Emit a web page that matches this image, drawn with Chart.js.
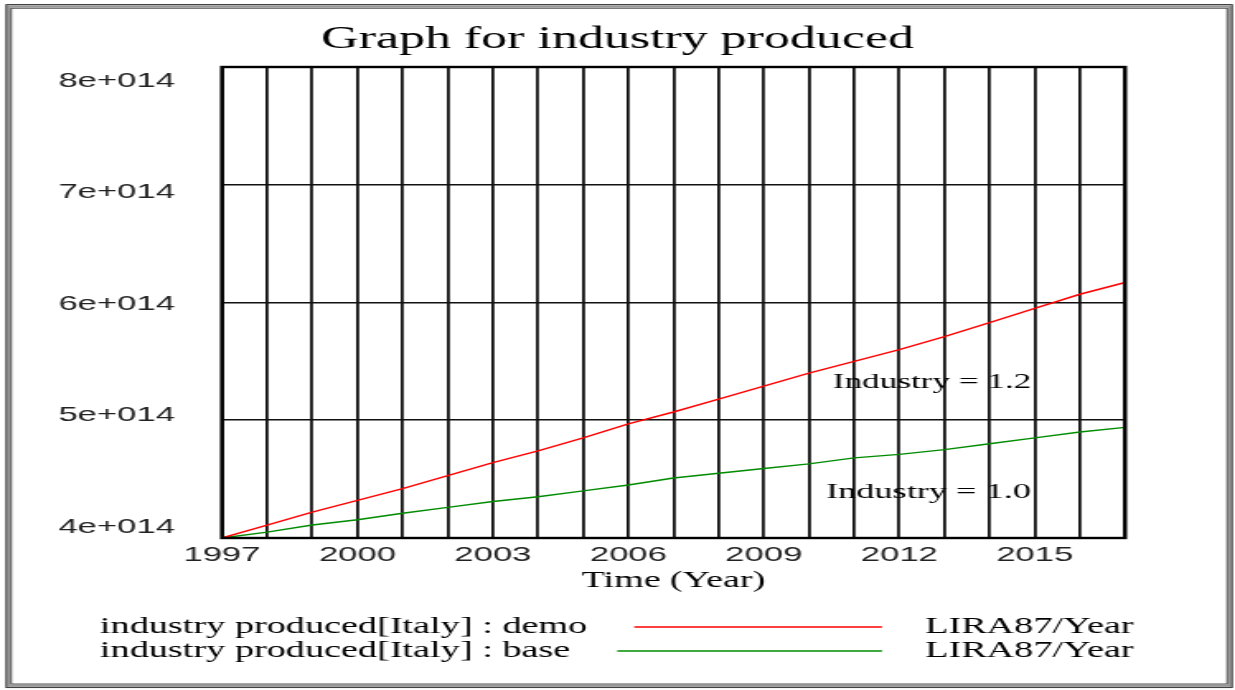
<!DOCTYPE html>
<html>
<head>
<meta charset="utf-8">
<title>Graph for industry produced</title>
<script src="https://cdn.jsdelivr.net/npm/chart.js@4.4.1/dist/chart.umd.min.js"></script>
<style>
  html, body { margin: 0; padding: 0; background: #fff; overflow: hidden; }
  /* the original graph is stretched sideways, so draw narrow and widen it */
  #wrap { width: 749px; height: 690px; transform: scaleX(1.6489); transform-origin: 0 0; }
  canvas { display: block; }
</style>
</head>
<body>
<div id="wrap"><canvas id="chart" width="749" height="690"></canvas></div>
<script>
const years = [1997, 1998, 1999, 2000, 2001, 2002, 2003, 2004, 2005, 2006, 2007,
               2008, 2009, 2010, 2011, 2012, 2013, 2014, 2015, 2016, 2017];

// industry produced[Italy] : demo  (LIRA87/Year)
const demoValues = [4.00e14, 4.11e14, 4.22e14, 4.32e14, 4.42e14, 4.53e14, 4.64e14,
                    4.74e14, 4.85e14, 4.97e14, 5.07e14, 5.18e14, 5.29e14, 5.40e14,
                    5.50e14, 5.60e14, 5.71e14, 5.83e14, 5.95e14, 6.07e14, 6.17e14];

// industry produced[Italy] : base  (LIRA87/Year)
const baseValues = [4.00e14, 4.05e14, 4.11e14, 4.155e14, 4.21e14, 4.26e14, 4.31e14,
                    4.35e14, 4.40e14, 4.45e14, 4.51e14, 4.55e14, 4.59e14, 4.63e14,
                    4.68e14, 4.71e14, 4.75e14, 4.80e14, 4.85e14, 4.90e14, 4.94e14];

const seriesNames = ['industry produced[Italy] : demo', 'industry produced[Italy] : base'];
const unitLabel = 'LIRA87/Year';
const runLabels = ['Industry = 1.2', 'Industry = 1.0'];
const yTicks = [4e14, 5e14, 6e14, 7e14, 8e14];
const xTickLabels = [1997, 2000, 2003, 2006, 2009, 2012, 2015];

const serif = "'Liberation Serif', 'Times New Roman', serif";
const sans = "'Liberation Sans', Arial, sans-serif";

Chart.defaults.color = '#000';

const decor = {
  id: 'decor',
  beforeDraw(chart) {
    const ctx = chart.ctx;
    ctx.save();
    ctx.fillStyle = '#fff';
    ctx.fillRect(0, 0, chart.width, chart.height);
    // double outer frame
    ctx.strokeStyle = '#999';
    ctx.lineWidth = 2.2;
    ctx.strokeRect(5.2, 6.4, 740.6, 679.4);
    ctx.strokeStyle = '#222';
    ctx.lineWidth = 0.9;
    ctx.strokeRect(3.8, 4.6, 743.4, 683);
    ctx.lineWidth = 0.8;
    ctx.strokeRect(6.8, 8.2, 737.4, 675.8);
    ctx.restore();
  },
  afterDraw(chart) {
    const {ctx, chartArea: a, scales: {x, y}} = chart;
    ctx.save();
    // plot box
    ctx.strokeStyle = '#000';
    ctx.lineWidth = 2.4;
    ctx.strokeRect(a.left, a.top, a.right - a.left, a.bottom - a.top);

    // run labels inside the plot
    ctx.fillStyle = '#000';
    ctx.textBaseline = 'middle';
    ctx.textAlign = 'left';
    ctx.font = '21.3px ' + serif;
    ctx.fillText(runLabels[0], x.getPixelForValue(2010.53), y.getPixelForValue(5.32e14));
    ctx.font = '22px ' + serif;
    ctx.fillText(runLabels[1], x.getPixelForValue(2010.38), y.getPixelForValue(4.39e14));

    // legend rows
    ctx.font = '23.2px ' + serif;
    chart.data.datasets.forEach((ds, i) => {
      const ty = 627 + i * 24;
      ctx.fillStyle = '#000';
      ctx.fillText(ds.label, 60.6, ty);
      const x0 = 60.6 + ctx.measureText(ds.label).width + 28.5;
      ctx.strokeStyle = ds.borderColor;
      ctx.lineWidth = 1.4;
      ctx.beginPath();
      ctx.moveTo(x0, ty);
      ctx.lineTo(534.9, ty);
      ctx.stroke();
      ctx.fillText(unitLabel, 561, ty);
    });
    ctx.restore();
  }
};

new Chart(document.getElementById('chart'), {
  type: 'line',
  data: {
    datasets: [
      {
        label: seriesNames[0],
        data: years.map((yr, i) => ({x: yr, y: demoValues[i]})),
        borderColor: 'rgb(255, 0, 0)',
        borderWidth: 1.4,
        pointRadius: 0,
        tension: 0,
        yAxisID: 'y'
      },
      {
        label: seriesNames[1],
        data: years.map((yr, i) => ({x: yr, y: baseValues[i]})),
        borderColor: 'rgb(0, 140, 0)',
        borderWidth: 1.4,
        pointRadius: 0,
        tension: 0,
        yAxisID: 'y'
      }
    ]
  },
  options: {
    responsive: false,
    animation: false,
    devicePixelRatio: 1,
    layout: { padding: { top: 0, left: 0, right: 0, bottom: 95.2 } },
    plugins: {
      legend: { display: false },
      tooltip: { enabled: false },
      title: {
        display: true,
        text: 'Graph for industry produced',
        color: '#000',
        font: { family: serif, size: 31.5, weight: 'normal' },
        padding: { top: 21.1, bottom: 8.1 }
      }
    },
    scales: {
      x: {
        type: 'linear',
        min: 1997,
        max: 2017,
        afterBuildTicks: s => { s.ticks = years.map(v => ({value: v})); },
        afterFit: s => { s.height = 56.8; },
        grid: { color: '#111', lineWidth: 1.8, drawTicks: false },
        border: { display: false },
        ticks: {
          autoSkip: false,
          maxRotation: 0,
          padding: 5,
          color: '#222',
          font: { family: sans, size: 21 },
          callback: v => xTickLabels.includes(v) ? String(v) : ''
        },
        title: {
          display: true,
          text: 'Time (Year)',
          color: '#000',
          font: { family: serif, size: 23 },
          padding: { top: 0, bottom: 0 }
        }
      },
      y: {
        type: 'linear',
        position: 'left',
        min: 4e14,
        max: 8e14,
        afterBuildTicks: s => { s.ticks = yTicks.map(v => ({value: v})); },
        afterFit: s => { s.width = 0; },
        grid: { color: '#111', lineWidth: 1.6, drawTicks: false },
        border: { display: false },
        ticks: { display: false }
      },
      // label axis: the graph spreads its y labels a bit tighter than the grid
      yLabels: {
        type: 'linear',
        position: 'left',
        min: 3.9013e14,
        max: 8.1255e14,
        afterBuildTicks: s => { s.ticks = yTicks.map(v => ({value: v})); },
        afterFit: s => { s.width = 134.6; },
        grid: { display: false, drawTicks: false },
        border: { display: false },
        ticks: {
          padding: 28.5,
          color: '#222',
          font: { family: sans, size: 21 },
          callback: v => (v / 1e14) + 'e+014'
        }
      },
      // empty right axis keeps the plot narrow while the title stays centred
      yRight: {
        type: 'linear',
        position: 'right',
        min: 0,
        max: 1,
        afterFit: s => { s.width = 66.7; },
        grid: { display: false, drawTicks: false },
        border: { display: false },
        ticks: { display: false }
      }
    }
  },
  plugins: [decor]
});
</script>
</body>
</html>
